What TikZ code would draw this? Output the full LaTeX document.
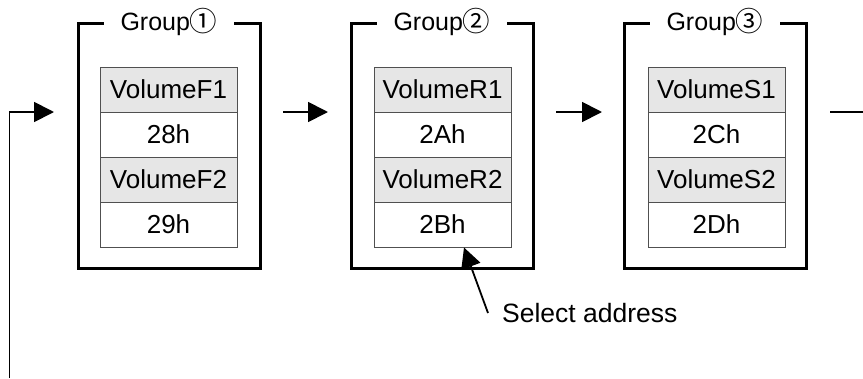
\documentclass[tikz,border=0pt]{standalone}
\usepackage{fontspec}
\setmainfont{Liberation Sans}
\newfontfamily\cjkfont{Noto Sans CJK JP}
\usetikzlibrary{arrows.meta}
\definecolor{cellgray}{HTML}{E6E6E6}
\definecolor{cellline}{HTML}{505050}
\begin{document}
\begin{tikzpicture}[x=1pt,y=-1pt,
  outerbox/.style={draw,line width=3pt,inner sep=0pt,minimum width=182pt,minimum height=245pt},
  titlebox/.style={fill=white,inner xsep=17pt,inner ysep=3pt,anchor=base,font=\fontsize{25}{30}\selectfont},
  cellbase/.style={draw=cellline,line width=1pt,inner sep=0pt,minimum width=137pt,minimum height=45pt,font=\fontsize{26}{30}\selectfont},
  cellhead/.style={cellbase,fill=cellgray},
  cellval/.style={cellbase,fill=white},
  arr/.style={line width=1.8pt,-{Triangle[length=20pt,width=20pt]}},
  plain/.style={line width=1.8pt}]
\useasboundingbox (0,0) rectangle (863,378);
\foreach \n/\ox/\ix/\cd/\L/\ha/\hb in {1/78/100/{①}/F/28h/29h, 2/351/374/{②}/R/2Ah/2Bh, 3/624/648/{③}/S/2Ch/2Dh}{
  \node[outerbox] (g\n) at (\ox+91,145.5) {};
  \node[titlebox] (t\n) at (\ox+91,30) {Group{\cjkfont\raisebox{-1pt}{\scalebox{1.1}{\cd}}}};
  \node[cellhead] (c\n a) at (\ix+68.5,89.5) {Volume\L1};
  \node[cellval]  (c\n b) at (\ix+68.5,134.5) {\ha};
  \node[cellhead] (c\n c) at (\ix+68.5,179.5) {Volume\L2};
  \node[cellval]  (c\n d) at (\ix+68.5,224.5) {\hb};
}
% feedback line
\coordinate (fb0) at (9.5,378);
\coordinate (fb1) at (9.5,112);
\coordinate (in1) at (54,112);
\draw[arr] (fb0) -- (fb1) -- (in1);
% arrows between groups
\coordinate (o1) at (283,112);
\coordinate (in2) at (328,112);
\coordinate (o2) at (556,112);
\coordinate (in3) at (602,112);
\coordinate (o3) at (830,112);
\coordinate (out) at (863,112);
\draw[arr] (o1) -- (in2);
\draw[arr] (o2) -- (in3);
\draw[plain] (o3) -- (out);
% select address
\node[anchor=base west,inner sep=0pt,font=\fontsize{26.5}{31}\selectfont] (sel) at (502,322) {Select address};
\coordinate (selt) at (488,313);
\draw[arr] (selt) -- ([xshift=21.5pt]c2d.south);
\end{tikzpicture}
\end{document}
